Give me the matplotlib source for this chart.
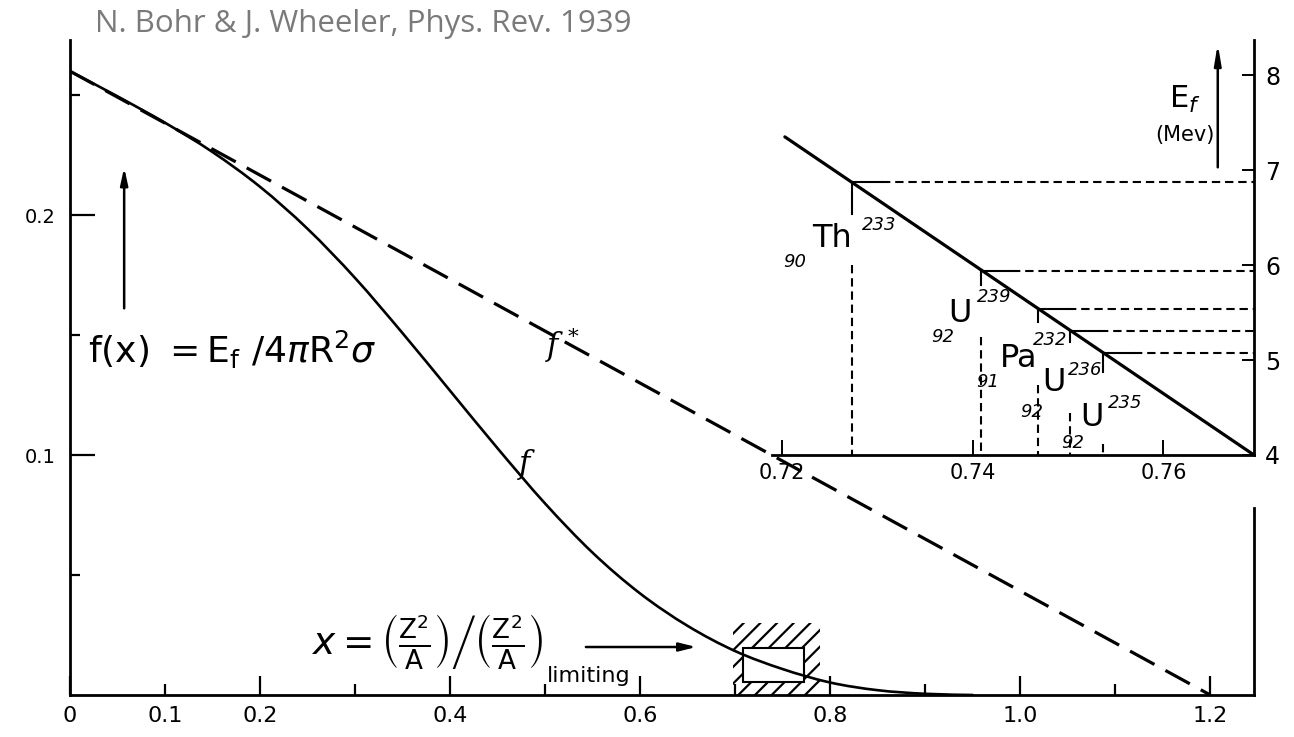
import numpy as np
import matplotlib.pyplot as plt
from matplotlib.path import Path
from matplotlib.patches import PathPatch, Rectangle

plt.rcParams['lines.scale_dashes'] = False
plt.rcParams['mathtext.fontset'] = 'dejavusans'
plt.rcParams['hatch.linewidth'] = 1.6
plt.rcParams['font.family'] = ['DejaVu Sans']

# f(x): fission barrier in units of the surface energy 4 pi R^2 sigma
x_f = [0, 0.05, 0.1, 0.15, 0.2, 0.25, 0.3, 0.35, 0.4, 0.45, 0.5, 0.55,
       0.6, 0.65, 0.7, 0.75, 0.8, 0.85, 0.9, 0.95]
f_vals = [0.260, 0.2495, 0.2385, 0.2263, 0.2118, 0.1943, 0.1738, 0.1508,
          0.1268, 0.1028, 0.0798, 0.0593, 0.0423, 0.0288, 0.0183, 0.0108,
          0.0052, 0.0020, 0.0005, 0.0]
# f*: expansion valid for small x
x_fstar = [0, 1.2]
fstar_vals = [0.26, 0.0]

# region blown up in the inset
box_x = [0.708, 0.772]
box_f = [0.0055, 0.0195]
frame_x = [0.698, 0.789]
frame_f = [0.0, 0.030]

# inset: fission threshold E_f (MeV) against x
x_line = [0.7203, 0.7695]
E_line = [7.35, 4.0]
symbols = ['Th', 'U', 'Pa', 'U', 'U']
Z_nuc = [90, 92, 91, 92, 92]
A_nuc = [233, 239, 232, 236, 235]
x_nuc = [0.7273, 0.7409, 0.7468, 0.7502, 0.7537]
E_nuc = [6.87, 5.94, 5.54, 5.31, 5.07]

main_xticks = [0, 0.2, 0.4, 0.6, 0.8, 1.0, 1.2]
main_xlabels = ['0', '0.2', '0.4', '0.6', '0.8', '1.0', '1.2']
minor_xticks = [0.1, 0.3, 0.5, 0.7, 0.9, 1.1]
minor_xlabels = ['0.1', '', '', '', '', '']
main_yticks = [0.1, 0.2]
main_ylabels = ['0.1', '0.2']
minor_yticks = [0.05, 0.15, 0.25]
inset_xticks = [0.72, 0.74, 0.76]
inset_xlabels = ['0.72', '0.74', '0.76']
inset_yticks = [4, 5, 6, 7, 8]


def smooth_path(xs, ys):
    # Catmull-Rom through the points, written as cubic Bezier pieces
    p = np.column_stack([xs, ys]).astype(float)
    p = np.vstack([p[0], p, p[-1]])
    verts = [tuple(p[1])]
    codes = [Path.MOVETO]
    for i in range(1, len(p) - 2):
        c1 = p[i] + (p[i + 1] - p[i - 1]) / 6.0
        c2 = p[i + 1] - (p[i + 2] - p[i]) / 6.0
        verts += [tuple(c1), tuple(c2), tuple(p[i + 1])]
        codes += [Path.CURVE4] * 3
    return Path(verts, codes)


W, H = 1294, 737
def px_box(l, t, r, b):
    return [l / W, 1 - b / H, (r - l) / W, (b - t) / H]

fig = plt.figure(figsize=(W / 100, H / 100), dpi=100)
ax = fig.add_axes(px_box(70, 40, 1254, 695))
ax.set_xlim(0, 1.246)
ax.set_ylim(0, 0.273)
ax.patch.set_alpha(0)
ax.spines['top'].set_visible(False)
ax.spines['right'].set_bounds(0, 0.078)
for s in ['left', 'bottom', 'right']:
    ax.spines[s].set_linewidth(2.0)

ax.set_xticks(main_xticks)
ax.set_xticklabels(main_xlabels)
ax.set_xticks(minor_xticks, minor=True)
ax.set_xticklabels(minor_xlabels, minor=True)
ax.set_yticks(main_yticks)
ax.set_yticklabels(main_ylabels)
ax.set_yticks(minor_yticks, minor=True)
ax.tick_params(axis='x', which='major', direction='in', length=14, width=1.6,
               labelsize=16, pad=8)
ax.tick_params(axis='x', which='minor', direction='in', length=8, width=1.6,
               labelsize=16, pad=8)
ax.tick_params(axis='y', which='major', direction='in', length=18, width=1.6,
               labelsize=14, pad=10)
ax.tick_params(axis='y', which='minor', direction='in', length=7, width=1.6)
ax.tick_params(right=False, which='both')

# curves
ax.add_patch(PathPatch(smooth_path(x_f, f_vals), fill=False, lw=1.9,
                       edgecolor='black', capstyle='round'))
ax.plot(x_fstar, fstar_vals, color='black', lw=2.3, dashes=(20, 9))
ax.text(0.500, 0.146, r'$f^{\,*}$', fontsize=22, math_fontfamily='dejavuserif',
        va='center', ha='left')
ax.text(0.470, 0.096, r'$f$', fontsize=22, math_fontfamily='dejavuserif',
        va='center', ha='left')

# hatched frame round the enlarged region
fx0, fx1 = frame_x
fy0, fy1 = frame_f
bx0, bx1 = box_x
by0, by1 = box_f
verts = [(fx0, fy0), (fx1, fy0), (fx1, fy1), (fx0, fy1), (fx0, fy0),
         (bx0, by0), (bx0, by1), (bx1, by1), (bx1, by0), (bx0, by0)]
codes = [Path.MOVETO] + [Path.LINETO] * 3 + [Path.CLOSEPOLY]
codes = codes + codes
ax.add_patch(PathPatch(Path(verts, codes), facecolor='none', edgecolor='black',
                       hatch='//', lw=0))
ax.add_patch(Rectangle((bx0, by0), bx1 - bx0, by1 - by0, fill=False,
                       edgecolor='black', lw=1.5))

# labels
ax.annotate('', xy=(0.057, 0.221), xytext=(0.057, 0.160),
            arrowprops=dict(arrowstyle='-|>,head_length=1.0,head_width=0.22',
                            color='black', lw=1.8))
ax.text(0.019, 0.1437, r'$\mathrm{f(x)}\ =\mathrm{E}_{\mathrm{f}}\ /4\pi \mathrm{R}^{2}\sigma$',
        fontsize=26, va='center', ha='left')
ax.text(0.255, 0.0225,
        r'$x=\left(\frac{\mathrm{Z}^2}{\mathrm{A}}\right)\left/\left(\frac{\mathrm{Z}^2}{\mathrm{A}}\right)\right.$',
        fontsize=27, va='center', ha='left')
ax.text(0.502, 0.0080, 'limiting', fontsize=16, va='center', ha='left')
ax.annotate('', xy=(0.662, 0.0200), xytext=(0.540, 0.0200),
            arrowprops=dict(arrowstyle='-|>,head_length=1.0,head_width=0.25',
                            color='black', lw=1.8))

fig.text(95 / W, 1 - 32 / H, 'N. Bohr & J. Wheeler, Phys. Rev. 1939',
         fontsize=22.5, color='#7a7a7a', family='Open Sans', va='baseline',
         ha='left')

# inset
ins = fig.add_axes(px_box(772, 40, 1254, 455))
ins.set_xlim(0.71895, 0.7695)
ins.set_ylim(4, 8.37)
ins.patch.set_alpha(0)
ins.spines['top'].set_visible(False)
ins.spines['left'].set_visible(False)
for s in ['bottom', 'right']:
    ins.spines[s].set_linewidth(2.0)
ins.yaxis.tick_right()
ins.set_xticks(inset_xticks)
ins.set_xticklabels(inset_xlabels)
ins.set_yticks(inset_yticks)
ins.tick_params(axis='x', direction='in', length=11, width=1.4, labelsize=15, pad=6)
ins.tick_params(axis='y', direction='in', length=9, width=1.4, labelsize=17, pad=8)

ins.plot(x_line, E_line, color='black', lw=2.3, solid_capstyle='round')

stub_len = [0.33, 0.15, 0.14, 0.12, 0.2]
drop_top = [6.0, 5.24, 4.74, 4.44, 4.12]
for i in range(len(x_nuc)):
    xn, En = x_nuc[i], E_nuc[i]
    ins.plot([xn, xn + 0.0032], [En, En], color='black', lw=1.5)
    ins.plot([xn + 0.0032, 0.7695], [En, En], color='black', lw=1.5, dashes=(6, 3.5))
    ins.plot([xn, xn], [En, En - stub_len[i]], color='black', lw=1.5)
    ins.plot([xn, xn], [drop_top[i], 4.0], color='black', lw=1.5, dashes=(6, 3.5))

sym_xy = [(0.7252, 6.28), (0.73868, 5.49), (0.7448, 5.02), (0.74854, 4.76), (0.75253, 4.39)]
sup_xy = [(0.7284, 6.42), (0.74046, 5.66), (0.7463, 5.21), (0.7500, 4.89), (0.75421, 4.55)]
sub_xy = [(0.72136, 6.03), (0.7369, 5.24), (0.7416, 4.77), (0.74623, 4.45), (0.75053, 4.13)]
for i in range(len(symbols)):
    ins.text(*sym_xy[i], symbols[i], fontsize=23, va='center', ha='center')
    ins.text(*sup_xy[i], str(A_nuc[i]), fontsize=13, va='center', ha='left',
             style='italic')
    ins.text(*sub_xy[i], str(Z_nuc[i]), fontsize=13, va='center', ha='center',
             style='italic')

ins.annotate('', xy=(0.7657, 8.36), xytext=(0.7657, 7.0),
             arrowprops=dict(arrowstyle='-|>,head_length=1.2,head_width=0.2',
                             color='black', lw=1.8))
ins.text(0.7623, 7.74, r'$\mathrm{E}_{f}$', fontsize=22, va='center', ha='center')
ins.text(0.7623, 7.37, '(Mev)', fontsize=15, va='center', ha='center')

fig.savefig('out.png', dpi=100)
